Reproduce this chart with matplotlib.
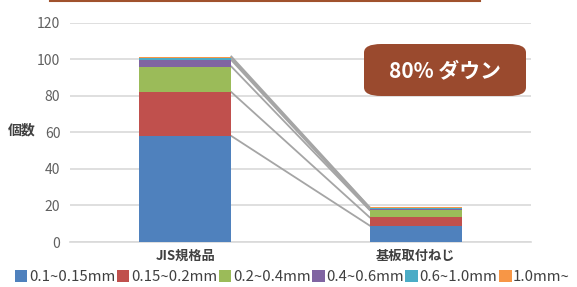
import matplotlib
matplotlib.use("Agg")
import matplotlib.pyplot as plt
from matplotlib.patches import FancyBboxPatch, Patch
from matplotlib.lines import Line2D
import numpy as np

plt.rcParams['font.family'] = ['Noto Sans CJK JP', 'DejaVu Sans']

categories = ["JIS規格品", "基板取付ねじ"]
series_names = ["0.1~0.15mm", "0.15~0.2mm", "0.2~0.4mm", "0.4~0.6mm", "0.6~1.0mm", "1.0mm~"]
jis_values = [58, 24, 14, 3.5, 1, 1]
kiban_values = [9, 4.5, 4, 0.3, 1, 0.2]
colors = ["#4f81bd", "#c0504d", "#9bbb59", "#8064a2", "#4bacc6", "#f79646"]
yticks = [0, 20, 40, 60, 80, 100, 120]
badge_text = "80% ダウン"
ylabel = "個数"

fig = plt.figure(figsize=(5.77, 2.87), dpi=100)
ax = fig.add_axes([70/577, 1-242/287, 461/577, (242-22.7)/287])

x = np.arange(len(categories))
width = 0.4
vals = np.array([jis_values, kiban_values])
bottom = np.zeros(len(categories))
for i, name in enumerate(series_names):
    ax.bar(x, vals[:, i], width, bottom=bottom, color=colors[i], label=name, zorder=3)
    top = bottom + vals[:, i]
    ax.plot([x[0] + width/2, x[1] - width/2], [top[0], top[1]], color="#a5a5a5", lw=1.3, zorder=2)
    bottom = top

ax.set_xlim(-0.5, 1.5)
ax.set_ylim(0, 120)
ax.set_yticks(yticks)
ax.grid(axis='y', color="#d9d9d9", lw=1.2, zorder=0)
ax.set_axisbelow(True)
for s in ['top', 'right', 'left']:
    ax.spines[s].set_visible(False)
ax.spines['bottom'].set_color("#d9d9d9")
ax.spines['bottom'].set_linewidth(1.2)
ax.tick_params(axis='y', length=0, pad=7, labelsize=10, labelcolor="#606060")
ax.tick_params(axis='x', length=0, pad=5, labelsize=9.5, labelcolor="#404040")
ax.set_xticks(x)
ax.set_xticklabels(categories, fontweight='bold')

fig.text(22/577, 1-131/287, ylabel, ha='center', va='center', fontsize=10, color="#404040", fontweight='bold')

# badge
bx0, by0, bx1, by1 = 364, 44, 526, 96
badge = FancyBboxPatch((bx0/577, 1-by1/287), (bx1-bx0)/577, (by1-by0)/287,
                       boxstyle="round,pad=0,rounding_size=0.03", transform=fig.transFigure,
                       facecolor="#9a4a2e", edgecolor='none', zorder=5)
fig.patches.append(badge)
fig.text((bx0+bx1)/2/577, 1-71/287, badge_text, ha='center', va='center', fontsize=15,
         color='white', fontweight='bold', zorder=6)

# top line
fig.add_artist(Line2D([50/577, 480/577], [1-0.8/287, 1-0.8/287], color="#a0522d", lw=1.5,
                      transform=fig.transFigure))

handles = [Patch(facecolor=c, edgecolor='none') for c in colors]
fig.legend(handles, series_names, loc='lower left', bbox_to_anchor=(0.015, -0.01), ncol=6,
           frameon=False, fontsize=10.8, handlelength=0.85, handleheight=0.85, handletextpad=0.1,
           columnspacing=0.1, borderaxespad=0, labelcolor="#404040")

fig.savefig("out.png", dpi=100)
